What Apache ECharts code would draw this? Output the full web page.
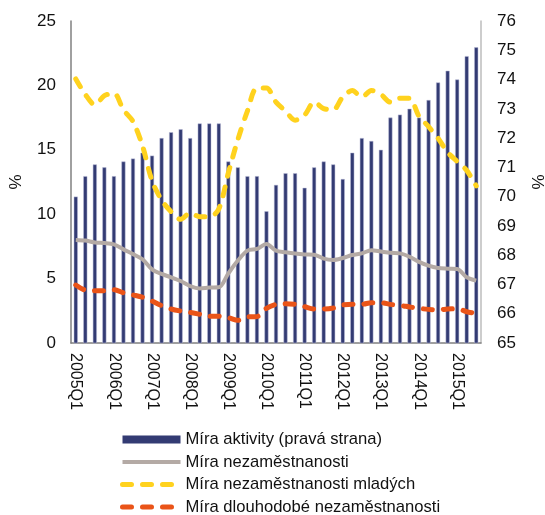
<!DOCTYPE html>
<html>
<head>
<meta charset="utf-8">
<script src="https://cdn.jsdelivr.net/npm/echarts@6/dist/echarts.min.js"></script>
<style>
  html, body { margin: 0; padding: 0; background: #fff; }
  #chart { width: 545px; height: 515px; }
</style>
</head>
<body>
<div id="chart"></div>
<script>
const quarters = [
  '2005Q1', '2005Q2', '2005Q3', '2005Q4', '2006Q1', '2006Q2', '2006Q3', '2006Q4',
  '2007Q1', '2007Q2', '2007Q3', '2007Q4', '2008Q1', '2008Q2', '2008Q3', '2008Q4',
  '2009Q1', '2009Q2', '2009Q3', '2009Q4', '2010Q1', '2010Q2', '2010Q3', '2010Q4',
  '2011Q1', '2011Q2', '2011Q3', '2011Q4', '2012Q1', '2012Q2', '2012Q3', '2012Q4',
  '2013Q1', '2013Q2', '2013Q3', '2013Q4', '2014Q1', '2014Q2', '2014Q3', '2014Q4',
  '2015Q1', '2015Q2', '2015Q3'
]

// right axis
const activityRate = [
  70.0, 70.7, 71.1, 71.0, 70.7, 71.2, 71.3, 71.5, 71.4, 72.0, 72.2, 72.3, 72.0, 72.5,
  72.5, 72.5, 71.2, 71.0, 70.7, 70.7, 69.5, 70.4, 70.8, 70.8, 70.3, 71.0, 71.2, 71.1,
  70.6, 71.5, 72.0, 71.9, 71.6, 72.7, 72.8, 73.0, 72.7, 73.3, 73.9, 74.3, 74.0, 74.8, 75.1
]

// left axis
const unemployment = [
  8.0, 7.95, 7.8, 7.76, 7.66, 7.27, 6.9, 6.5, 5.72, 5.36, 5.1, 4.81, 4.42, 4.24,
  4.3, 4.32, 5.4, 6.4, 7.17, 7.3, 7.69, 7.17, 7.04, 6.94, 6.88, 6.86, 6.55, 6.44,
  6.6, 6.83, 6.96, 7.2, 7.1, 7.0, 6.96, 6.7, 6.3, 6.0, 5.82, 5.77, 5.75, 5.1, 4.84
]

const youthUnemployment = [
  20.5, 19.3, 18.5, 19.2, 19.4, 18.1, 17.2, 15.3, 12.6, 11.1, 10.2, 9.6, 10.1, 9.8,
  9.8, 10.4, 13.2, 15.8, 18.0, 19.8, 19.8, 18.7, 18.0, 17.3, 17.7, 18.7, 18.2, 18.1,
  19.1, 19.6, 19.1, 19.6, 19.3, 18.7, 19.0, 19.0, 17.6, 16.8, 15.9, 14.8, 14.1, 13.4, 12.2
]

const longTermUnemployment = [
  4.5, 4.1, 4.06, 4.06, 4.14, 3.9, 3.73, 3.55, 3.26, 2.9, 2.64, 2.48, 2.38, 2.23,
  2.07, 2.07, 1.97, 1.76, 2.02, 2.05, 2.69, 3.0, 3.05, 3.0, 2.82, 2.64, 2.64, 2.72,
  2.95, 3.0, 3.0, 3.13, 3.13, 3.0, 2.92, 2.8, 2.69, 2.61, 2.56, 2.64, 2.66, 2.43, 2.3
]

const leftTicks = { min: 0, max: 25, interval: 5 }
const rightTicks = { min: 65, max: 76, interval: 1 }

const font = 'Liberation Sans, Arial, sans-serif'

// legend for line series: hide the marker that echarts puts on the line icon
const noMarker = { opacity: 0 }

const chart = echarts.init(document.getElementById('chart'))

chart.setOption({
  animation: false,
  textStyle: { fontFamily: font },
  grid: { left: 71, right: 64, top: 21, bottom: 172, outerBoundsMode: 'none' },
  legend: {
    orient: 'vertical',
    left: 120,
    top: 431,
    height: 100,
    padding: 0,
    itemWidth: 58,
    itemHeight: 8,
    itemGap: 5.5,
    textStyle: { fontSize: 16.6, color: '#111', fontFamily: font },
    data: [
      { name: 'Míra aktivity (pravá strana)', icon: 'rect', itemStyle: { borderWidth: 0 } },
      { name: 'Míra nezaměstnanosti', itemStyle: noMarker, lineStyle: { width: 4 } },
      { name: 'Míra nezaměstnanosti mladých', itemStyle: noMarker, lineStyle: { width: 5 } },
      { name: 'Míra dlouhodobé nezaměstnanosti', itemStyle: noMarker, lineStyle: { width: 5 } }
    ]
  },
  xAxis: {
    type: 'category',
    data: quarters,
    axisLine: { lineStyle: { color: '#808080', width: 1.5 } },
    axisTick: { show: false },
    axisLabel: {
      interval: 3,
      rotate: -90,
      margin: 10,
      fontSize: 16,
      color: '#111'
    }
  },
  yAxis: [
    {
      type: 'value',
      ...leftTicks,
      name: '%',
      nameLocation: 'middle',
      nameRotate: 90,
      nameGap: 46,
      nameMoveOverlap: false,
      nameTextStyle: { fontSize: 17, color: '#111' },
      axisLine: { show: true, lineStyle: { color: '#808080', width: 1.5 } },
      axisTick: { show: false },
      splitLine: { show: false },
      axisLabel: { fontSize: 17, color: '#111', margin: 15 }
    },
    {
      type: 'value',
      ...rightTicks,
      name: '%',
      nameLocation: 'middle',
      nameRotate: 90,
      nameGap: 50,
      nameTextStyle: { fontSize: 17, color: '#111' },
      axisLine: { show: true, lineStyle: { color: '#bdbdbd', width: 1.5 } },
      axisTick: { show: false },
      splitLine: { show: false },
      axisLabel: { fontSize: 17, color: '#111', margin: 16 }
    }
  ],
  series: [
    {
      name: 'Míra aktivity (pravá strana)',
      type: 'bar',
      yAxisIndex: 1,
      data: activityRate,
      barWidth: 4,
      itemStyle: { color: '#333b73', borderColor: '#b9bbd6', borderWidth: 0.5 }
    },
    {
      name: 'Míra nezaměstnanosti',
      type: 'line',
      data: unemployment,
      smooth: 0.3,
      symbol: 'none',
      lineStyle: { color: '#b4aaa5', width: 4 },
      itemStyle: { color: '#b4aaa5' }
    },
    {
      name: 'Míra nezaměstnanosti mladých',
      type: 'line',
      data: youthUnemployment,
      smooth: 0.3,
      symbol: 'none',
      lineStyle: { color: '#ffd21e', width: 5, type: [9, 11], cap: 'round' },
      itemStyle: { color: '#ffd21e' }
    },
    {
      name: 'Míra dlouhodobé nezaměstnanosti',
      type: 'line',
      data: longTermUnemployment,
      smooth: 0.3,
      symbol: 'none',
      lineStyle: { color: '#ea5418', width: 5, type: [9, 11], cap: 'round' },
      itemStyle: { color: '#ea5418' }
    }
  ]
})

window.addEventListener('resize', () => chart.resize())
</script>
</body>
</html>
